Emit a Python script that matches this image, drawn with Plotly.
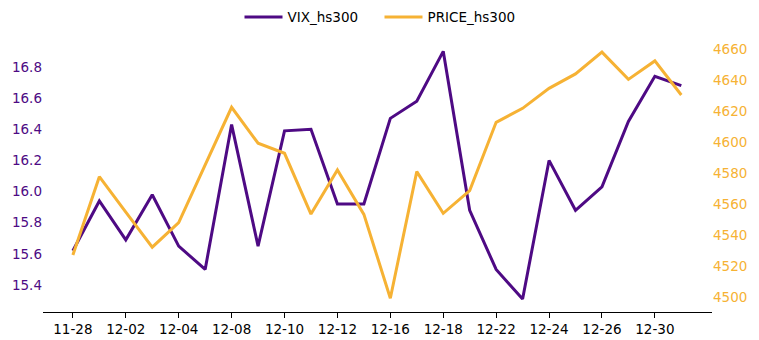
import plotly.graph_objects as go

dates = ["11-28", "12-01", "12-02", "12-03", "12-04", "12-05", "12-08", "12-09",
         "12-10", "12-11", "12-12", "12-15", "12-16", "12-17", "12-18", "12-19",
         "12-22", "12-23", "12-24", "12-25", "12-26", "12-29", "12-30", "12-31"]
vix = [15.62, 15.94, 15.69, 15.98, 15.65, 15.50, 16.43, 15.65,
       16.39, 16.40, 15.92, 15.92, 16.47, 16.58, 16.90, 15.88,
       15.50, 15.31, 16.20, 15.88, 16.03, 16.45, 16.74, 16.68]
price = [4527.1, 4577.6, 4554.8, 4532.1, 4548.0, 4585.0, 4622.4, 4599.2,
         4592.7, 4553.5, 4582.0, 4553.3, 4499.2, 4580.9, 4554.0, 4568.6,
         4612.7, 4621.7, 4634.6, 4643.9, 4658.0, 4640.4, 4652.3, 4630.3]
tick_dates = dates[::2]
left_ticks = [15.4, 15.6, 15.8, 16.0, 16.2, 16.4, 16.6, 16.8]
right_ticks = [4500, 4520, 4540, 4560, 4580, 4600, 4620, 4640, 4660]

PURPLE = "#4e0a84"
ORANGE = "#f6b234"
FONT = "DejaVu Sans"

fig = go.Figure()
fig.add_trace(go.Scatter(x=dates, y=vix, name="VIX_hs300", mode="lines",
                         line=dict(color=PURPLE, width=3), yaxis="y"))
fig.add_trace(go.Scatter(x=dates, y=price, name="PRICE_hs300", mode="lines",
                         line=dict(color=ORANGE, width=3), yaxis="y2"))

fig.update_layout(
    width=759, height=340,
    margin=dict(l=43, r=47, t=40, b=28, autoexpand=False),
    plot_bgcolor="white", paper_bgcolor="white",
    font=dict(family=FONT, size=13, color="black"),
    showlegend=True,
    legend=dict(orientation="h", x=0.5, xanchor="center", xref="container",
                y=0.995, yanchor="top", yref="container",
                font=dict(size=13.5, color="black"), entrywidth=87,
                entrywidthmode="pixels", itemwidth=38),
    xaxis=dict(type="category", range=[-1.13, 24.16], showgrid=False,
               showline=True, linecolor="black", linewidth=1,
               ticks="outside", ticklen=5, tickcolor="black",
               tickmode="array", tickvals=tick_dates, ticktext=tick_dates,
               tickfont=dict(size=13.5, color="black"), zeroline=False,
               automargin=False),
    yaxis=dict(range=[15.227, 16.973], showgrid=False, showline=False, zeroline=False,
               tickmode="array", tickvals=left_ticks,
               ticktext=[f"{v:.1f}" for v in left_ticks],
               tickfont=dict(size=13.5, color=PURPLE), ticks="", automargin=False),
    yaxis2=dict(range=[4490.3, 4665.8], overlaying="y", side="right",
                showgrid=False, showline=False, zeroline=False,
                tickmode="array", tickvals=right_ticks,
                ticktext=[str(v) for v in right_ticks],
                tickfont=dict(size=13.5, color=ORANGE), ticks="", automargin=False),
)

fig.write_html("out.html")
